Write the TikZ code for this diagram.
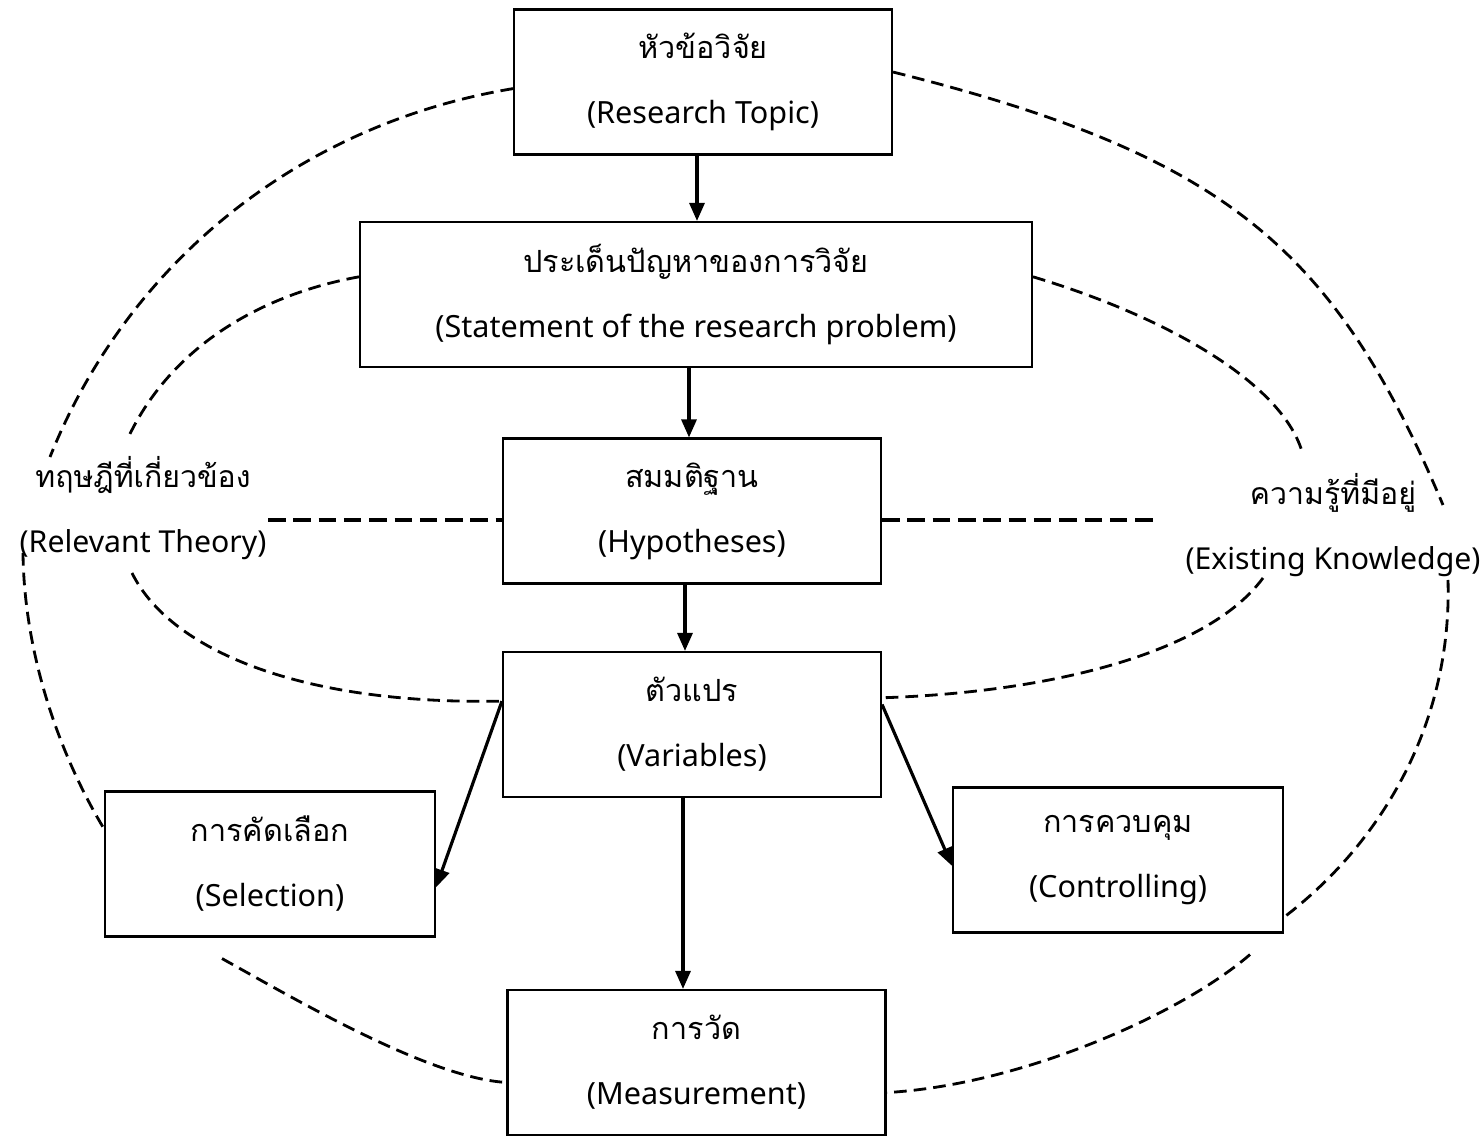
\documentclass[tikz,border=0pt]{standalone}
\usepackage{fontspec}
\setmainfont{Noto Sans}
\newfontfamily\thaifont[Script=Thai]{Loma}
\usetikzlibrary{arrows.meta}

\tikzset{
  box/.style={draw, line width=0.6pt, minimum width=3.78cm, minimum height=1.45cm,
    align=center, inner sep=0pt, font=\fontsize{8.7}{18.5}\selectfont},
  lbl/.style={align=center, inner sep=0pt, font=\fontsize{8.6}{18.5}\selectfont},
  arr/.style={line width=0.9pt, -{Triangle[length=0.18cm,width=0.15cm]}},
  link/.style={line width=0.8pt, dash pattern=on 3.6pt off 2pt},
  bar/.style={line width=1pt, dash pattern=on 5pt off 2.2pt}
}

\begin{document}
\begin{tikzpicture}
\useasboundingbox (0,0) rectangle (14.83,11.37);

% main chain
\node[box] (topic) at (7.03,10.55) {{\thaifont หัวข้อวิจัย}\\(Research Topic)};
\node[box, minimum width=6.72cm] (problem) at (6.96,8.425)
	{{\thaifont ประเด็นปัญหาของการวิจัย}\\(Statement of the research problem)};
\node[box] (hyp) at (6.92,6.26) {{\thaifont สมมติฐาน}\\(Hypotheses)};
\node[box] (var) at (6.92,4.125) {{\thaifont ตัวแปร}\\(Variables)};
\node[box, minimum width=3.3cm] (sel) at (2.70,2.73) {{\thaifont การคัดเลือก}\\(Selection)};
\node[box, minimum width=3.3cm] (ctrl) at (11.18,2.77) {{\thaifont การควบคุม}\\(Controlling)};
\node[box] (meas) at (6.965,0.745) {{\thaifont การวัด}\\(Measurement)};

% side labels
\node[lbl] (theory) at (1.43,6.29) {{\thaifont ทฤษฎีที่เกี่ยวข้อง}\\(Relevant Theory)};
\node[lbl] (know) at (13.33,6.115) {{\thaifont ความรู้ที่มีอยู่}\\(Existing Knowledge)};

\coordinate (thol) at (0.50,6.80);
\coordinate (thil) at (1.27,6.97);
\coordinate (thob) at (0.23,5.84);
\coordinate (thib) at (1.32,5.64);
\coordinate (thr) at (2.68,6.17);
\coordinate (knol) at (14.43,6.32);
\coordinate (knil) at (13.03,6.82);
\coordinate (knob) at (14.48,5.57);
\coordinate (knib) at (12.63,5.59);
\coordinate (knl) at (11.55,6.17);

% arrows
\draw[arr] ([xshift=-0.06cm]topic.south) -- ([xshift=-0.06cm]topic.south |- problem.north);
\draw[arr] ([xshift=-0.07cm]problem.south) -- ([xshift=-0.07cm]problem.south |- hyp.north);
\draw[arr] ([xshift=-0.07cm]hyp.south) -- ([xshift=-0.07cm]hyp.south |- var.north);
\draw[arr] ([xshift=-0.09cm]var.south) -- ([xshift=-0.09cm]var.south |- meas.north);
\draw[arr] (var.173) -- (sel.352);
\draw[arr] (var.6) -- (ctrl.182);

% dashed links
\draw[bar] (thr) -- (thr -| hyp.west);
\draw[bar] (hyp.east |- knl) -- (knl);

\draw[link] (topic.182) .. controls (3.00,10.13) and (1.28,8.75) .. (thol);
\draw[link] (thob) .. controls (0.24,4.90) and (0.55,3.90) .. (sel.168);
\draw[link] (problem.177) .. controls (2.75,8.45) and (1.75,8.00) .. (thil);
\draw[link] (thib) .. controls (1.70,4.87) and (3.00,4.32) .. (var.173);

\draw[link] (topic.3) .. controls (12.25,9.82) and (13.34,8.90) .. (knol);
\draw[link] (knob) .. controls (14.52,4.17) and (13.85,2.97) .. (ctrl.341);
\draw[link] (problem.3) .. controls (11.70,8.19) and (12.85,7.52) .. (knil);
\draw[link] (knib) .. controls (12.10,4.87) and (10.60,4.45) .. (var.8);

\draw[link] ([xshift=-0.48cm,yshift=-0.21cm]sel.south)
	.. controls (3.00,1.35) and (4.30,0.59) .. (meas.186);
\draw[link] ([xshift=1.32cm,yshift=-0.21cm]ctrl.south)
	.. controls (11.80,1.22) and (10.20,0.52) .. (meas.351);
\end{tikzpicture}
\end{document}
